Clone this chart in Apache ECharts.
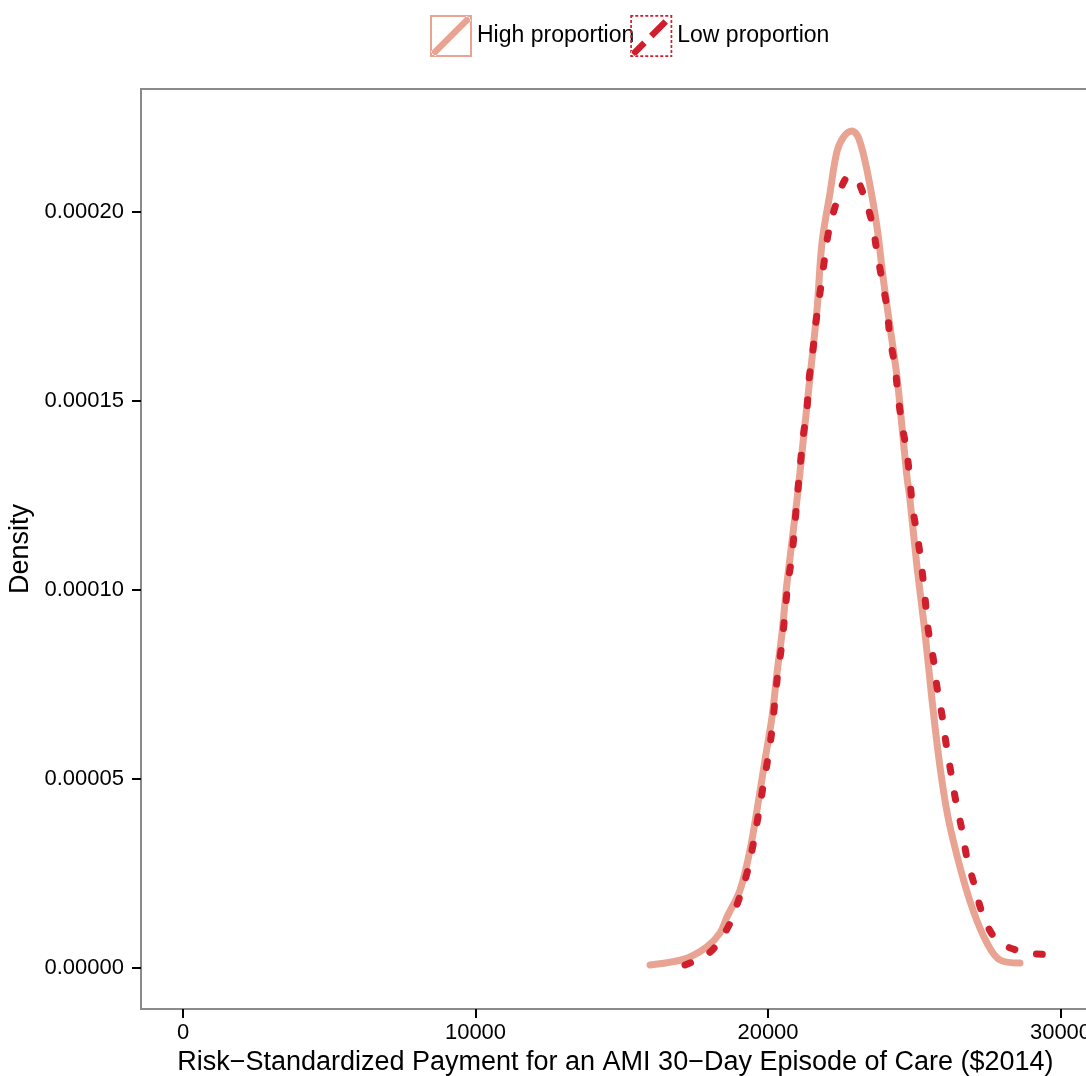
<!DOCTYPE html>
<html>
<head>
<meta charset="utf-8">
<script src="https://cdn.jsdelivr.net/npm/echarts@6/dist/echarts.min.js"></script>
<style>html,body{margin:0;padding:0;background:#fff}#c{width:1086px;height:1076px}</style>
</head>
<body>
<div id="c"></div>
<script>
// ---- data ----
const seriesNames = ['High proportion', 'Low proportion'];
const highX = [15966,16800,17333,17915,18359,18598,19043,19385,19624,19897,20137,20308,20479,20650,20991,21197,21436,21675,21846,22120,22359,22600,22872,23100,23385,23726,23932,24171,24410,24581,24752,24855,25094,25368,25607,25880,26154,26564,27009,27487,27932,28615];
const highY = [0.0000008,0.0000017,0.0000029,0.0000056,0.0000093,0.0000135,0.0000206,0.0000312,0.0000418,0.0000550,0.0000664,0.0000780,0.0000886,0.0001019,0.0001238,0.0001389,0.0001563,0.0001741,0.0001918,0.0002050,0.0002160,0.0002200,0.0002214,0.0002195,0.0002110,0.0001960,0.0001828,0.0001696,0.0001563,0.0001431,0.0001299,0.0001238,0.0001061,0.0000886,0.0000709,0.0000532,0.0000399,0.0000267,0.0000153,0.0000066,0.0000021,0.0000013];
const lowX = [17162,18017,18632,18974,19282,19487,19658,19829,20000,20137,20239,20342,20479,20581,20684,20821,20991,21094,21197,21333,21402,21538,21641,21778,21915,22051,22291,22632,22906,23248,23556,23726,23897,24068,24171,24342,24444,24581,24752,24855,24957,25128,25265,25368,25470,25641,25778,25949,26085,26256,26427,26632,26803,27077,27350,27829,28718,29709,29915];
const lowY = [0.0000008,0.0000042,0.0000108,0.0000175,0.0000251,0.0000325,0.0000399,0.0000479,0.0000556,0.0000630,0.0000709,0.0000783,0.0000860,0.0000939,0.0001019,0.0001093,0.0001238,0.0001323,0.0001402,0.0001481,0.0001556,0.0001635,0.0001709,0.0001786,0.0001865,0.0001939,0.0002013,0.0002085,0.0002095,0.0002050,0.0001971,0.0001894,0.0001820,0.0001746,0.0001667,0.0001590,0.0001516,0.0001437,0.0001362,0.0001286,0.0001212,0.0001132,0.0001053,0.0000979,0.0000899,0.0000823,0.0000743,0.0000669,0.0000595,0.0000516,0.0000439,0.0000365,0.0000291,0.0000214,0.0000140,0.0000074,0.0000042,0.0000034,0.0000029];
const xTicks = [0, 10000, 20000, 30000];
const yTicks = [0, 0.00005, 0.0001, 0.00015, 0.0002];
const xTitle = 'Risk\u2212Standardized Payment for an AMI 30\u2212Day Episode of Care ($2014)';
const yTitle = 'Density';

// ---- styles ----
const FONT = '"Liberation Sans", Arial, Helvetica, sans-serif';
const HIGH_COLOR = '#E8A392';
const LOW_COLOR = '#CF1F2D';

function rect(x, y, w, h) { return 'M' + x + ' ' + y + 'h' + w + 'v' + h + 'h' + (-w) + 'Z'; }
function band(x1, y1, x2, y2, half) {
  const dx = x2 - x1, dy = y2 - y1, L = Math.hypot(dx, dy);
  const nx = -dy / L * half, ny = dx / L * half;
  const p = (a, b) => a.toFixed(2) + ' ' + b.toFixed(2);
  return 'M' + p(x1 + nx, y1 + ny) + 'L' + p(x2 + nx, y2 + ny) + 'L' + p(x2 - nx, y2 - ny) + 'L' + p(x1 - nx, y1 - ny) + 'Z';
}
const S = 42, T = 2;
const highIcon = 'path://M0 0H42V42H0Z' + 'M' + T + ' ' + T + 'V' + (S - T) + 'H' + (S - T) + 'V' + T + 'Z' + band(3, 39, 39, 3, 3.2);
let lowPath = '';
const dash = 3, gap = 2, th = 1.7;
for (let p = 0; p < S; p += dash + gap) {
  const len = Math.min(dash, S - p);
  lowPath += rect(p, 0, len, th) + rect(p, S - th, len, th) + rect(0, p, th, len) + rect(S - th, p, th, len);
}
const lerp = (t) => [2 + 38 * t, 40 - 38 * t];
let a = lerp(0.02), b = lerp(0.32);
lowPath += band(a[0], a[1], b[0], b[1], 3.2);
a = lerp(0.5); b = lerp(0.88);
lowPath += band(a[0], a[1], b[0], b[1], 3.2);
const lowIcon = 'path://' + lowPath;

const chart = echarts.init(document.getElementById('c'), null, { renderer: 'canvas' });
chart.setOption({
  animation: false,
  backgroundColor: '#fff',
  textStyle: { fontFamily: FONT },
  legend: {
    left: 430, top: 15, padding: 0,
    itemWidth: 42, itemHeight: 42, itemGap: -4,
    textStyle: { fontSize: 23, color: '#000', fontFamily: FONT },
    data: [
      { name: seriesNames[0], icon: highIcon, itemStyle: { color: HIGH_COLOR, borderWidth: 0 } },
      { name: seriesNames[1], icon: lowIcon, itemStyle: { color: LOW_COLOR, borderWidth: 0 } }
    ]
  },
  grid: {
    left: 141, top: 89, bottom: 67, width: 948.75,
    outerBoundsMode: 'none',
    show: true, borderColor: '#8a8a8a', borderWidth: 2, backgroundColor: '#fff'
  },
  xAxis: {
    type: 'value', min: -1436, max: 31000,
    name: xTitle, nameLocation: 'middle', nameGap: 36,
    nameTextStyle: { fontSize: 27, color: '#000', fontFamily: FONT },
    splitLine: { show: false },
    axisLine: { show: false, onZero: false },
    axisTick: { show: true, length: 9, lineStyle: { color: '#000', width: 2 }, customValues: xTicks },
    axisLabel: { fontSize: 22, color: '#000', margin: 13, fontFamily: FONT, customValues: xTicks, hideOverlap: false, formatter: v => String(v) }
  },
  yAxis: {
    type: 'value', min: -0.00001085, max: 0.0002325,
    name: yTitle, nameLocation: 'middle', nameGap: 102, nameRotate: 90,
    nameTextStyle: { fontSize: 27, color: '#000', fontFamily: FONT },
    splitLine: { show: false },
    axisLine: { show: false, onZero: false },
    axisTick: { show: true, length: 9, lineStyle: { color: '#000', width: 2 }, customValues: yTicks },
    axisLabel: { fontSize: 22, color: '#000', margin: 17, fontFamily: FONT, customValues: yTicks, formatter: v => v.toFixed(5) }
  },
  series: [
    {
      name: seriesNames[0], type: 'line', showSymbol: false, symbol: 'none', smooth: 0.35,
      data: highX.map((x, i) => [x, highY[i]]),
      lineStyle: { color: HIGH_COLOR, width: 7, cap: 'round', join: 'round' },
      itemStyle: { color: HIGH_COLOR }, z: 2
    },
    {
      name: seriesNames[1], type: 'line', showSymbol: false, symbol: 'none', smooth: 0.35,
      data: lowX.map((x, i) => [x, lowY[i]]),
      lineStyle: { color: LOW_COLOR, width: 7, type: [6, 22], cap: 'round', join: 'round' },
      itemStyle: { color: LOW_COLOR }, z: 3
    }
  ]
});
</script>
</body>
</html>
